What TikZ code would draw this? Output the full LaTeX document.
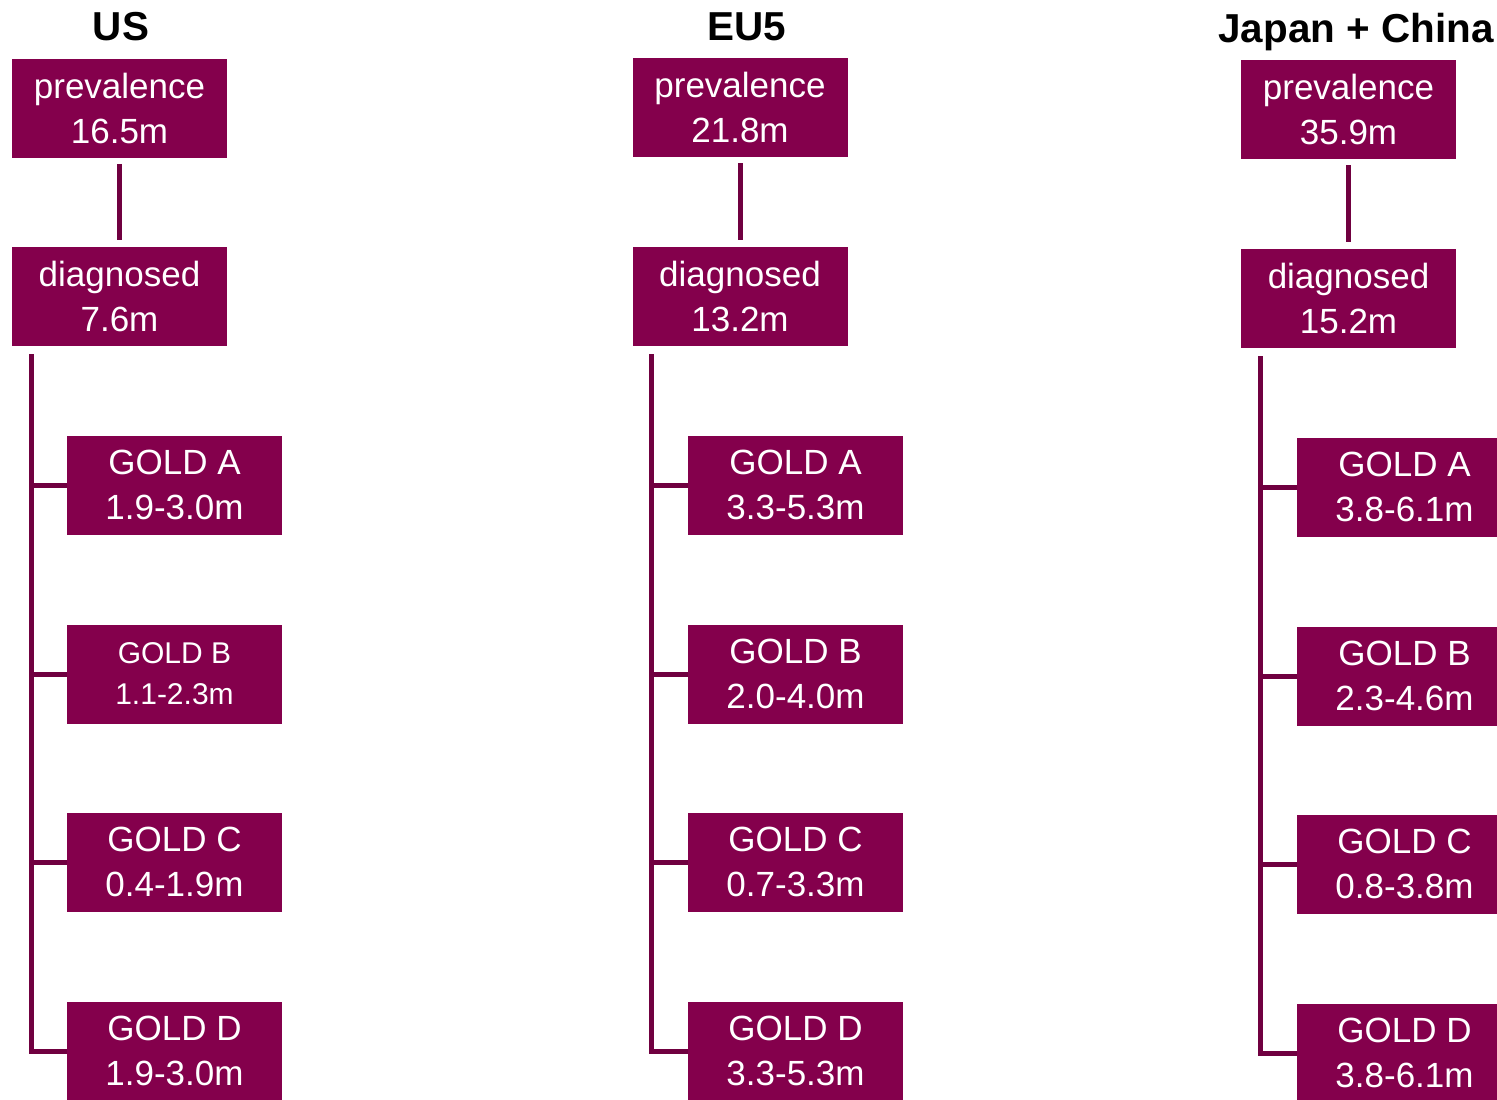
\documentclass[tikz,border=0pt]{standalone}
\usepackage{fontspec}
\setmainfont{Liberation Sans}
\usetikzlibrary{positioning}

\definecolor{boxcol}{RGB}{132,0,76}
\definecolor{linkcol}{RGB}{112,0,64}

\begin{document}
\begin{tikzpicture}[x=0.5pt,y=-0.5pt,
    box/.style={fill=boxcol, text=white, minimum width=107.5pt, minimum height=49.5pt,
        inner sep=0pt, align=center, font=\fontsize{17.5}{22.5}\selectfont},
    small/.style={font=\fontsize{15}{20.5}\selectfont},
    link/.style={draw=linkcol, line width=2.5pt},
    title/.style={anchor=base, font=\bfseries\fontsize{20.2}{24}\selectfont}]
    \useasboundingbox (0,0) rectangle (1497,1099);

    % US
    \node[title] (usT) at (121,40) {US};
    \node[box] (usP) at (119.5,108) {prevalence\\16.5m};
    \node[box] (usD) at (119.5,296) {diagnosed\\7.6m};
    \node[box] (usA) at (174.5,485) {GOLD A\\1.9-3.0m};
    \node[box, small] (usB) at (174.5,674) {GOLD B\\1.1-2.3m};
    \node[box] (usC) at (174.5,862) {GOLD C\\0.4-1.9m};
    \node[box] (usG) at (174.5,1051) {GOLD D\\1.9-3.0m};
    \coordinate (usTrunk) at (31,354);
    \draw[link, shorten <=3pt, shorten >=3pt] (usP) -- (usD);
    \draw[link] (usTrunk) |- (usG.west);
    \draw[link] (usTrunk) |- (usA.west);
    \draw[link] (usTrunk) |- (usB.west);
    \draw[link] (usTrunk) |- (usC.west);

    % EU5
    \node[title] (euT) at (747,40) {EU5};
    \node[box] (euP) at (740,107.5) {prevalence\\21.8m};
    \node[box] (euD) at (740,296) {diagnosed\\13.2m};
    \node[box] (euA) at (795.5,485) {GOLD A\\3.3-5.3m};
    \node[box] (euB) at (795.5,674) {GOLD B\\2.0-4.0m};
    \node[box] (euC) at (795.5,862) {GOLD C\\0.7-3.3m};
    \node[box] (euG) at (795.5,1051) {GOLD D\\3.3-5.3m};
    \coordinate (euTrunk) at (651,354);
    \draw[link, shorten <=3pt, shorten >=3pt] (euP) -- (euD);
    \draw[link] (euTrunk) |- (euG.west);
    \draw[link] (euTrunk) |- (euA.west);
    \draw[link] (euTrunk) |- (euB.west);
    \draw[link] (euTrunk) |- (euC.west);

    % Japan + China
    \node[title] (jcT) at (1356,42) {Japan + China};
    \node[box] (jcP) at (1348.5,109.5) {prevalence\\35.9m};
    \node[box] (jcD) at (1348.5,298) {diagnosed\\15.2m};
    \node[box] (jcA) at (1404.5,487) {GOLD A\\3.8-6.1m};
    \node[box] (jcB) at (1404.5,676) {GOLD B\\2.3-4.6m};
    \node[box] (jcC) at (1404.5,864) {GOLD C\\0.8-3.8m};
    \node[box] (jcG) at (1404.5,1053) {GOLD D\\3.8-6.1m};
    \coordinate (jcTrunk) at (1260,356);
    \draw[link, shorten <=3pt, shorten >=3pt] (jcP) -- (jcD);
    \draw[link] (jcTrunk) |- (jcG.west);
    \draw[link] (jcTrunk) |- (jcA.west);
    \draw[link] (jcTrunk) |- (jcB.west);
    \draw[link] (jcTrunk) |- (jcC.west);
\end{tikzpicture}
\end{document}
